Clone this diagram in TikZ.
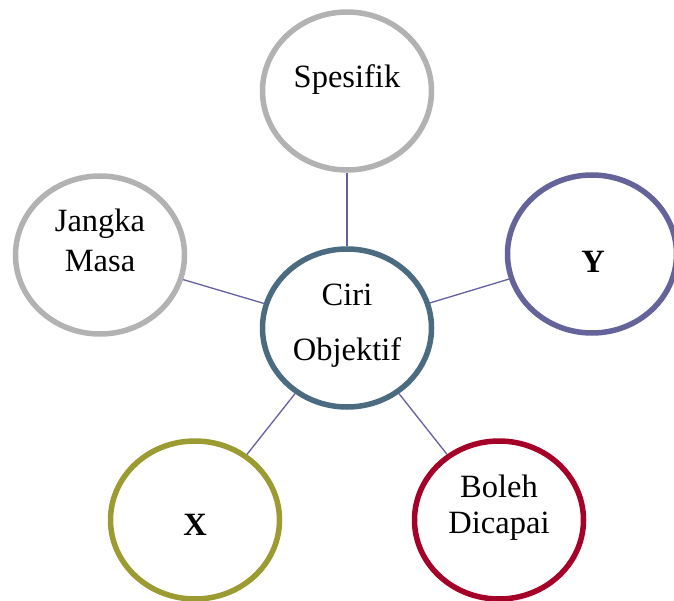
\documentclass[tikz,border=0pt]{standalone}
\usepackage{fontspec}
\setmainfont{Liberation Serif}
\usetikzlibrary{shapes.geometric}
\definecolor{centro}{RGB}{74,107,128}
\definecolor{cinza}{RGB}{178,178,178}
\definecolor{roxo}{RGB}{100,100,155}
\definecolor{oliva}{RGB}{155,155,50}
\definecolor{vinho}{RGB}{165,0,40}
\definecolor{linha}{RGB}{100,95,160}
\newcommand{\letra}{\fontsize{32.5}{40}\selectfont}

\begin{document}
\begin{tikzpicture}[x=1pt,y=-1pt,
    bolha/.style={ellipse, draw, line width=5.5pt, fill=white,
      minimum width=169pt, minimum height=158pt, inner sep=0pt},
    rotulo/.style={font=\letra, align=center, anchor=base, inner sep=0pt},
    liga/.style={draw=linha, line width=1.3pt}]
    \useasboundingbox (0,0) rectangle (674,601);
    \coordinate (c) at (347,328);
    \coordinate (s) at (347,91);
    \coordinate (j) at (100,255);
    \coordinate (y) at (592,254);
    \coordinate (x) at (195,520);
    \coordinate (b) at (499,520);
    \node[bolha, draw=centro] (ciri) at (c) {};
    \node[bolha, draw=cinza] (spes) at (s) {};
    \node[bolha, draw=cinza] (jangka) at (j) {};
    \node[bolha, draw=roxo] (nodey) at (y) {};
    \node[bolha, draw=oliva] (nodex) at (x) {};
    \node[bolha, draw=vinho] (boleh) at (b) {};

    \draw[liga] (ciri) -- (spes);
    \draw[liga] (ciri) -- (jangka);
    \draw[liga] (ciri) -- (nodey);
    \draw[liga] (ciri) -- (nodex);
    \draw[liga] (ciri) -- (boleh);

    % base = baseline of the last line
    \node[rotulo] (ciriT) at (347,360) {Ciri\\[15pt]Objektif};
    \node[rotulo] (spesT) at (347,88) {Spesifik};
    \node[rotulo] (jangkaT) at (100,272) {Jangka\\Masa};
    \node[rotulo] (yT) at (593,273) {\textbf{Y}};
    \node[rotulo] (xT) at (195,535) {\textbf{X}};
    \node[rotulo] (bolehT) at (499,533) {Boleh\\[-4pt]Dicapai};
  \end{tikzpicture}
\end{document}
